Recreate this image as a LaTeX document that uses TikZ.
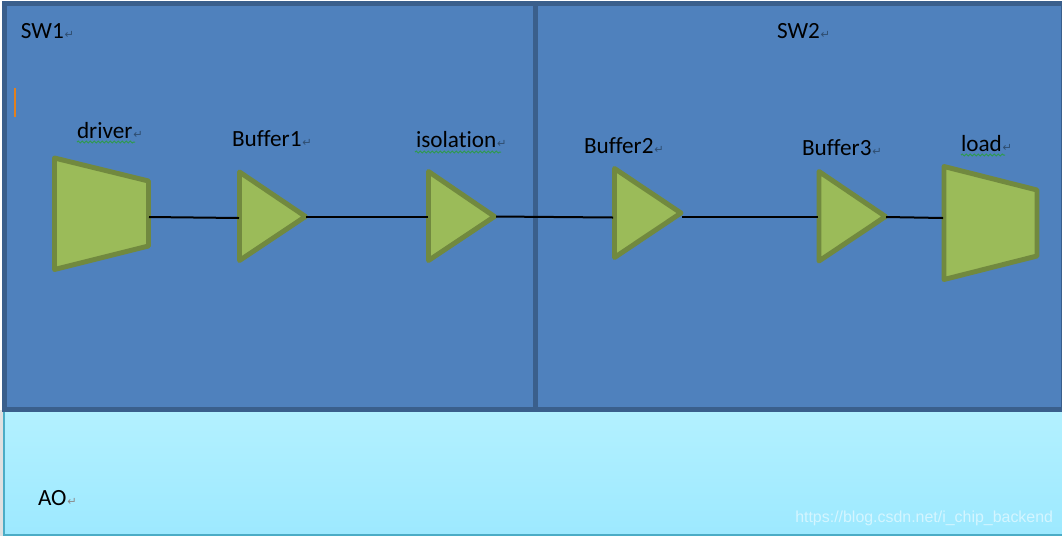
\documentclass[tikz,border=0pt]{standalone}
\usepackage{fontspec}
\setmainfont[Ligatures=NoCommon]{Carlito}
\newfontfamily\dejafont{DejaVu Sans}
\newfontfamily\wmfont{Liberation Sans}
\usetikzlibrary{decorations.pathmorphing}
\definecolor{panelfill}{HTML}{4F81BD}
\definecolor{panelline}{HTML}{3A5F8C}
\definecolor{shapefill}{HTML}{9BBB59}
\definecolor{shapeline}{HTML}{71893F}
\definecolor{aotop}{HTML}{B4F1FF}
\definecolor{aobot}{HTML}{9DE9FF}
\definecolor{aoline}{HTML}{4BACC6}
\definecolor{wavegreen}{HTML}{2F9A4F}
\newcommand{\retmark}[1]{\hspace{.6pt}\textcolor{#1}{\dejafont\fontsize{8.5}{9}\selectfont ↵}}
\tikzset{
  panel/.style={draw=panelline,fill=panelfill,line width=3.75pt},
  block/.style={draw=shapeline,fill=shapefill,line width=3.7pt,line join=round},
  wire/.style={draw=black,line width=1.5pt},
  label/.style={anchor=base west,inner sep=0pt,outer sep=0pt,font=\fontsize{17.4}{20}\selectfont},
  squiggle/.style={draw=wavegreen,line width=.75pt,decorate,decoration={snake,amplitude=.7pt,segment length=3pt}}
}
\begin{document}
\begin{tikzpicture}[x=0.75pt,y=-0.75pt]
\useasboundingbox (0,0) rectangle (1062,536);
\begin{scope}
\clip (0,0) rectangle (1062,536);
\fill[white] (0,0) rectangle (1062,536);
\fill[black!12] (0,410) rectangle (3,536);
% AO domain
\draw[draw=aoline,line width=1.5pt,top color=aotop,bottom color=aobot] (4,405) rectangle (1070,535);
% SW domains
\draw[panel] (4.5,3.5) rectangle (535.5,409.5);
\draw[panel] (535.5,3.5) rectangle (1063.5,409.5);
\end{scope}
% cursor mark
\fill[orange!55!brown] (14,88) rectangle (16,117);
% blocks
\draw[block] (54.5,158) -- (148.5,181) -- (148.5,246) -- (54.5,269.5) -- cycle;
\draw[block] (239.5,172) -- (305.5,216.5) -- (239.5,260.5) -- cycle;
\draw[block] (428.5,171.5) -- (494.5,216.5) -- (428.5,260.5) -- cycle;
\draw[block] (614.5,168.5) -- (681,213) -- (614.5,257.5) -- cycle;
\draw[block] (819,171.5) -- (885.5,216.5) -- (819,261) -- cycle;
\draw[block] (944,166.5) -- (1037,190) -- (1037,256) -- (944,279.5) -- cycle;
% connector ends
\coordinate (driverOut) at (149,217);
\coordinate (bufAIn) at (239,218);
\coordinate (bufAOut) at (306,216.5);
\coordinate (isoIn) at (428,216.5);
\coordinate (isoOut) at (496,216.5);
\coordinate (bufBIn) at (613,217.5);
\coordinate (bufBOut) at (682,217);
\coordinate (bufCIn) at (818,217);
\coordinate (bufCOut) at (886,217);
\coordinate (loadIn) at (943,218);
\draw[wire] (driverOut) -- (bufAIn);
\draw[wire] (bufAOut) -- (isoIn);
\draw[wire] (isoOut) -- (bufBIn);
\draw[wire] (bufBOut) -- (bufCIn);
\draw[wire] (bufCOut) -- (loadIn);
% labels
\node[label] (sw1) at (21,38) {SW1\retmark{black!40!panelfill}};
\node[label] (sw2) at (777,38) {SW2\retmark{black!40!panelfill}};
\node[label] (driver) at (77,138) {driver\retmark{black!40!panelfill}};
\node[label] (buf1) at (232,146) {Buffer1\retmark{black!40!panelfill}};
\node[label] (iso) at (416,147.5) {isolation\retmark{black!40!panelfill}};
\node[label] (buf2) at (584,153) {Buffer2\retmark{black!40!panelfill}};
\node[label] (buf3) at (802,155) {Buffer3\retmark{black!40!panelfill}};
\node[label] (load) at (961,151) {load\retmark{black!40!panelfill}};
\node[label] (ao) at (38,505) {AO\retmark{black!45}};
% spell-check squiggles
\draw[squiggle] (77,142) -- (135,142);
\draw[squiggle] (415,152) -- (501,152);
\draw[squiggle] (961,155) -- (1005,155);
% watermark
\node[anchor=base west,inner sep=0pt,text=white,opacity=.55,font=\wmfont\fontsize{11.95}{14}\selectfont] (mark) at (795,522) {https://blog.csdn.net/i\_chip\_backend};
\end{tikzpicture}
\end{document}
